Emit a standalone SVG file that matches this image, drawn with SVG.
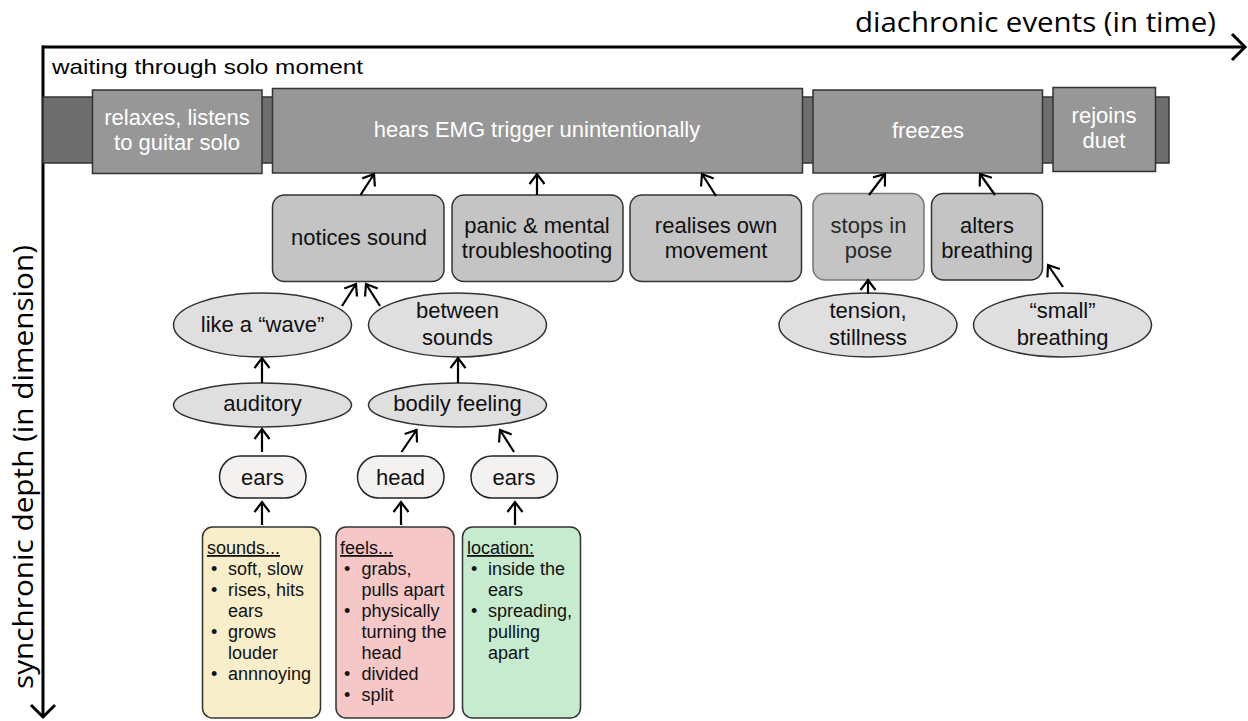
<svg xmlns="http://www.w3.org/2000/svg" width="1248" height="721" viewBox="0 0 1248 721">
<style>
.t{font-family:"Liberation Sans",Arial,sans-serif;}
.ax{font-family:"Open Sans","Noto Sans",sans-serif;font-size:27px;fill:#000;}
.top rect.b{fill:#979797;stroke:#333;stroke-width:1.5;}
.top text{fill:#fff;font-size:22px;text-anchor:middle;}
.mid rect{fill:#c4c4c4;stroke:#333;stroke-width:1.5;}
.mid text{fill:#111;font-size:22px;text-anchor:middle;}
.ell ellipse{fill:#e0dfe0;stroke:#333;stroke-width:1.5;}
.ell text{fill:#111;font-size:22px;text-anchor:middle;}
.pill rect{fill:#f4f1f1;stroke:#222;stroke-width:1.5;}
.pill text{fill:#111;font-size:22px;text-anchor:middle;}
.box rect{stroke:#333;stroke-width:1.5;}
.box text{fill:#111;font-size:18px;}
.u{text-decoration:underline;}
.conn line{stroke:#000;stroke-width:2.2;marker-end:url(#ah);}
</style>
<defs>
<marker id="ah" markerUnits="userSpaceOnUse" markerWidth="24" markerHeight="24" refX="12" refY="12" orient="auto" viewBox="0 0 24 24">
<path d="M2,4.5 L12,12 L2,19.5" fill="none" stroke="#000" stroke-width="2.2"/>
</marker>
</defs>
<rect width="1248" height="721" fill="#fff"/>

<g id="axes">
<line x1="42" y1="47" x2="1245" y2="47" stroke="#000" stroke-width="3"/>
<polyline points="1232,34 1245,47 1232,60" fill="none" stroke="#000" stroke-width="3"/>
<line x1="43" y1="45.5" x2="43" y2="716" stroke="#000" stroke-width="3"/>
<polyline points="31,705 43,717 55,705" fill="none" stroke="#000" stroke-width="3"/>
<text class="ax" x="1216" y="32" text-anchor="end" textLength="361" lengthAdjust="spacingAndGlyphs">diachronic events (in time)</text>
<text class="ax" transform="translate(33,689) rotate(-90)" textLength="444" lengthAdjust="spacingAndGlyphs">synchronic depth (in dimension)</text>
</g>

<text id="context" class="t" x="52" y="74" font-size="21" fill="#000" textLength="311" lengthAdjust="spacingAndGlyphs">waiting through solo moment</text>

<g class="top t">
<rect id="strip" x="43" y="97" width="1126" height="66" fill="#6e6e6e" stroke="#333" stroke-width="1.5"/>
<g id="relaxes"><rect class="b" x="92.5" y="90" width="169.5" height="83.5"/><text><tspan x="177" y="125">relaxes, listens</tspan><tspan x="177" y="150">to guitar solo</tspan></text></g>
<g id="hears"><rect class="b" x="272.5" y="88.5" width="530" height="84.5"/><text x="537" y="137">hears EMG trigger unintentionally</text></g>
<g id="freezes"><rect class="b" x="813" y="90" width="229.5" height="83"/><text x="928" y="138">freezes</text></g>
<g id="rejoins"><rect class="b" x="1053" y="87.5" width="102.5" height="84"/><text><tspan x="1104" y="123">rejoins</tspan><tspan x="1104" y="148">duet</tspan></text></g>
</g>

<g class="mid t">
<g id="notices"><rect x="272.5" y="195" width="171.5" height="86.5" rx="12"/><text x="359" y="245">notices sound</text></g>
<g id="panic"><rect x="452" y="195" width="171" height="86.5" rx="12"/><text><tspan x="537" y="233">panic &amp; mental</tspan><tspan x="537" y="258">troubleshooting</tspan></text></g>
<g id="realises"><rect x="630" y="195" width="171.5" height="86.5" rx="12"/><text><tspan x="716" y="233">realises own</tspan><tspan x="716" y="258">movement</tspan></text></g>
<g id="stops"><rect x="813" y="193.5" width="111" height="86.5" rx="12" style="stroke:#777"/><text style="fill:#2a2a2a"><tspan x="868.5" y="233">stops in</tspan><tspan x="868.5" y="258">pose</tspan></text></g>
<g id="alters"><rect x="931.5" y="193.5" width="111" height="86.5" rx="12"/><text><tspan x="987" y="233">alters</tspan><tspan x="987" y="258">breathing</tspan></text></g>
</g>

<g class="ell t">
<g id="wave"><ellipse cx="262.5" cy="325" rx="89" ry="32"/><text x="262.5" y="332">like a “wave”</text></g>
<g id="between"><ellipse cx="457.5" cy="325" rx="89" ry="32"/><text><tspan x="457.5" y="318">between</tspan><tspan x="457.5" y="345">sounds</tspan></text></g>
<g id="tension"><ellipse cx="868" cy="325" rx="89" ry="32"/><text><tspan x="868" y="318">tension,</tspan><tspan x="868" y="345">stillness</tspan></text></g>
<g id="small"><ellipse cx="1062.5" cy="325" rx="89" ry="32"/><text><tspan x="1062.5" y="318">“small”</tspan><tspan x="1062.5" y="345">breathing</tspan></text></g>
<g id="auditory"><ellipse cx="262.5" cy="405" rx="89" ry="22"/><text x="262.5" y="411">auditory</text></g>
<g id="bodily"><ellipse cx="457.5" cy="405" rx="89" ry="22"/><text x="457.5" y="411">bodily feeling</text></g>
</g>

<g class="pill t">
<g id="ears1"><rect x="219.5" y="456" width="86.5" height="42" rx="21"/><text x="262.5" y="485">ears</text></g>
<g id="head"><rect x="357.5" y="456" width="86.5" height="42" rx="21"/><text x="400.5" y="485">head</text></g>
<g id="ears2"><rect x="471" y="456" width="86.5" height="42" rx="21"/><text x="514" y="485">ears</text></g>
</g>

<g class="box t">
<g id="sounds">
<rect x="202.5" y="527" width="118" height="191" rx="10" fill="#f8eec9"/>
<text><tspan class="u" x="207" y="554">sounds...</tspan><tspan x="211" y="575">•</tspan><tspan x="228" y="575">soft, slow</tspan><tspan x="211" y="596">•</tspan><tspan x="228" y="596">rises, hits</tspan><tspan x="228" y="617">ears</tspan><tspan x="211" y="638">•</tspan><tspan x="228" y="638">grows</tspan><tspan x="228" y="659">louder</tspan><tspan x="211" y="680">•</tspan><tspan x="228" y="680">annnoying</tspan></text>
</g>
<g id="feels">
<rect x="336" y="527" width="118" height="191" rx="10" fill="#f5c7c7"/>
<text><tspan class="u" x="340" y="554">feels...</tspan><tspan x="344" y="575">•</tspan><tspan x="361.5" y="575">grabs,</tspan><tspan x="361.5" y="596">pulls apart</tspan><tspan x="344" y="617">•</tspan><tspan x="361.5" y="617">physically</tspan><tspan x="361.5" y="638">turning the</tspan><tspan x="361.5" y="659">head</tspan><tspan x="344" y="680">•</tspan><tspan x="361.5" y="680">divided</tspan><tspan x="344" y="701">•</tspan><tspan x="361.5" y="701">split</tspan></text>
</g>
<g id="location">
<rect x="462.5" y="527" width="118" height="191" rx="10" fill="#c6ebcf"/>
<text><tspan class="u" x="467" y="554">location:</tspan><tspan x="471" y="575">•</tspan><tspan x="488" y="575">inside the</tspan><tspan x="488" y="596">ears</tspan><tspan x="471" y="617">•</tspan><tspan x="488" y="617">spreading,</tspan><tspan x="488" y="638">pulling</tspan><tspan x="488" y="659">apart</tspan></text>
</g>
</g>

<g id="connectors" class="conn">
<line x1="360.5" y1="195" x2="374" y2="174"/>
<line x1="537" y1="195" x2="537" y2="174"/>
<line x1="716" y1="196" x2="702" y2="174"/>
<line x1="869" y1="195" x2="885" y2="174"/>
<line x1="995" y1="195" x2="980" y2="174"/>
<line x1="868" y1="294" x2="868" y2="280"/>
<line x1="1063" y1="287" x2="1048" y2="265"/>
<line x1="342" y1="306" x2="356" y2="284"/>
<line x1="380" y1="306" x2="366" y2="284"/>
<line x1="262" y1="383" x2="262" y2="358"/>
<line x1="458" y1="383" x2="458" y2="358"/>
<line x1="262" y1="452" x2="262" y2="429"/>
<line x1="401.5" y1="452" x2="416.5" y2="430"/>
<line x1="514" y1="452" x2="500" y2="430"/>
<line x1="262" y1="525" x2="262" y2="502"/>
<line x1="401" y1="525" x2="401" y2="502"/>
<line x1="515" y1="525" x2="515" y2="502"/>
</g>
</svg>
